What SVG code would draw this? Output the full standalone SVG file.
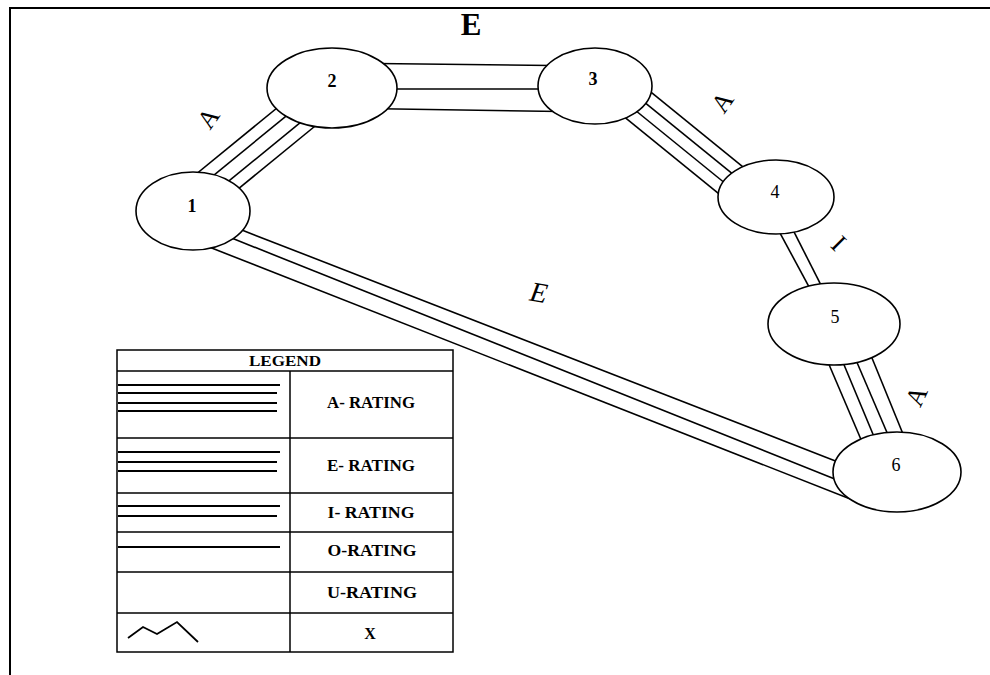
<svg xmlns="http://www.w3.org/2000/svg" width="990" height="675" viewBox="0 0 990 675">
  <style>
    .frame { stroke: #000; stroke-width: 2; fill: none; }
    .link line { stroke: #000; stroke-width: 1.6; }
    .node ellipse { fill: #fff; stroke: #000; stroke-width: 1.6; }
    .num { font-family: "Liberation Serif", serif; font-size: 18px; text-anchor: middle; fill: #000; }
    .rate { font-family: "Liberation Serif", serif; font-size: 26px; text-anchor: middle; fill: #000; }
    .leg { font-family: "Liberation Serif", serif; font-weight: bold; font-size: 16px; text-anchor: middle; fill: #000; }
    .grid { stroke: #000; stroke-width: 1.5; fill: none; }
    .sample { stroke: #000; stroke-width: 1.8; }
  </style>

  <rect width="990" height="675" fill="#fff"/>

  <!-- page frame -->
  <path class="frame" d="M10,675 V8 H990"/>

  <!-- closeness-rating connectors -->
  <g id="connectors">
    <!-- 1-2 : A -->
    <g class="link" id="link-1-2">
      <line x1="183.4" y1="184.5" x2="299.6" y2="89.5"/>
      <line x1="191.0" y1="193.8" x2="307.2" y2="98.8"/>
      <line x1="199.9" y1="204.7" x2="316.1" y2="109.7"/>
      <line x1="207.5" y1="214.0" x2="323.7" y2="119.0"/>
    </g>
    <!-- 2-3 : E -->
    <g class="link" id="link-2-3">
      <line x1="332" y1="63" x2="595" y2="66"/>
      <line x1="332" y1="89" x2="595" y2="89"/>
      <line x1="332" y1="108" x2="595" y2="112"/>
    </g>
    <!-- 3-4 : A -->
    <g class="link" id="link-3-4">
      <line x1="636.5" y1="80.4" x2="758.3" y2="179.4"/>
      <line x1="628.9" y1="89.7" x2="750.7" y2="188.7"/>
      <line x1="621.4" y1="99.0" x2="743.2" y2="198.0"/>
      <line x1="613.8" y1="108.3" x2="735.6" y2="207.3"/>
    </g>
    <!-- 4-5 : I -->
    <g class="link" id="link-4-5">
      <line x1="772.9" y1="219.8" x2="815.1" y2="298.2"/>
      <line x1="787.9" y1="219.8" x2="827.1" y2="297.2"/>
    </g>
    <!-- 5-6 : A -->
    <g class="link" id="link-5-6">
      <line x1="824.2" y1="353.2" x2="865.8" y2="450.8"/>
      <line x1="839.2" y1="353.2" x2="877.8" y2="445.8"/>
      <line x1="852.2" y1="351.2" x2="891.8" y2="443.8"/>
      <line x1="867.2" y1="346.2" x2="907.8" y2="445.8"/>
    </g>
    <!-- 1-6 : E -->
    <g class="link" id="link-1-6">
      <line x1="233" y1="226.6" x2="847" y2="465.4"/>
      <line x1="223" y1="234.6" x2="846" y2="483.4"/>
      <line x1="198.4" y1="242.8" x2="857.3" y2="501.7"/>
    </g>

    <!-- rating letters -->
    <text class="rate" x="471" y="35" style="font-size:31px;font-weight:bold">E</text>
    <text class="rate" transform="translate(208,118) rotate(-55)" y="9">A</text>
    <text class="rate" transform="translate(722,102) rotate(-55)" y="9">A</text>
    <text class="rate" transform="translate(839,243) rotate(45)" y="9">I</text>
    <text class="rate" transform="translate(916,396) rotate(-65)" y="9">A</text>
    <text class="rate" transform="translate(539,292) rotate(10)" y="10" style="font-style:italic;font-size:28px">E</text>
  </g>

  <!-- departments -->
  <g class="node" id="node-1">
    <ellipse cx="193" cy="211" rx="57" ry="39"/>
    <text class="num" x="192" y="212" font-weight="bold">1</text>
  </g>
  <g class="node" id="node-2">
    <ellipse cx="332" cy="88" rx="65" ry="40"/>
    <text class="num" x="332" y="87" font-weight="bold">2</text>
  </g>
  <g class="node" id="node-3">
    <ellipse cx="595" cy="86" rx="57" ry="38"/>
    <text class="num" x="593" y="85" font-weight="bold">3</text>
  </g>
  <g class="node" id="node-4">
    <ellipse cx="776" cy="197" rx="58" ry="37"/>
    <text class="num" x="775" y="198">4</text>
  </g>
  <g class="node" id="node-5">
    <ellipse cx="834" cy="324" rx="66" ry="41"/>
    <text class="num" x="835" y="323">5</text>
  </g>
  <g class="node" id="node-6">
    <ellipse cx="897" cy="472" rx="64" ry="40"/>
    <text class="num" x="896" y="471">6</text>
  </g>

  <!-- legend table -->
  <g id="legend">
    <rect class="grid" x="117" y="350" width="336" height="302" stroke-width="2"/>
    <line class="grid" x1="117" y1="371" x2="453" y2="371"/>
    <line class="grid" x1="117" y1="438" x2="453" y2="438"/>
    <line class="grid" x1="117" y1="493" x2="453" y2="493"/>
    <line class="grid" x1="117" y1="532" x2="453" y2="532"/>
    <line class="grid" x1="117" y1="572" x2="453" y2="572" stroke-width="2.5"/>
    <line class="grid" x1="117" y1="613" x2="453" y2="613"/>
    <line class="grid" x1="290" y1="371" x2="290" y2="652"/>

    <text class="leg" x="285" y="366" style="font-size:14px" textLength="72" lengthAdjust="spacingAndGlyphs">LEGEND</text>

    <!-- line samples -->
    <line class="sample" x1="118" y1="385" x2="280" y2="385"/>
    <line class="sample" x1="118" y1="393" x2="277" y2="393"/>
    <line class="sample" x1="118" y1="403" x2="277" y2="403"/>
    <line class="sample" x1="118" y1="411" x2="277" y2="411"/>

    <line class="sample" x1="118" y1="452" x2="280" y2="452"/>
    <line class="sample" x1="118" y1="462" x2="277" y2="462"/>
    <line class="sample" x1="118" y1="471" x2="277" y2="471"/>

    <line class="sample" x1="118" y1="506" x2="280" y2="506"/>
    <line class="sample" x1="118" y1="516" x2="277" y2="516"/>

    <line class="sample" x1="118" y1="547" x2="280" y2="547"/>

    <polyline class="sample" fill="none" stroke-width="1.5" points="128,638 143,627 157,634 177,622 198,642"/>

    <text class="leg" x="371" y="408" textLength="88" lengthAdjust="spacingAndGlyphs">A- RATING</text>
    <text class="leg" x="371" y="471" textLength="88" lengthAdjust="spacingAndGlyphs">E- RATING</text>
    <text class="leg" x="371" y="518" textLength="87" lengthAdjust="spacingAndGlyphs">I- RATING</text>
    <text class="leg" x="372" y="556" textLength="89" lengthAdjust="spacingAndGlyphs">O-RATING</text>
    <text class="leg" x="372" y="598" textLength="90" lengthAdjust="spacingAndGlyphs">U-RATING</text>
    <text class="leg" x="370" y="639">X</text>
  </g>
</svg>
